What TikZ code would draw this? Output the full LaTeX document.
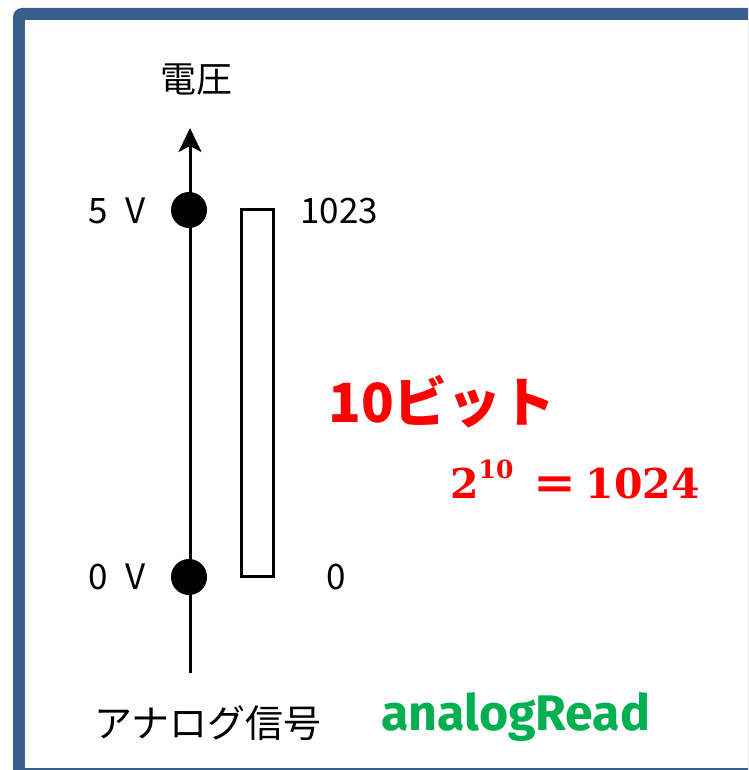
\documentclass[tikz,border=0pt]{standalone}
\usepackage{fontspec}
\usepackage{graphicx}
\usetikzlibrary{arrows.meta}
\newfontfamily\jp{Noto Sans CJK JP}
\newfontfamily\fira{Fira Sans}
\newfontfamily\dvserif{DejaVu Serif}
\definecolor{frameblue}{HTML}{3A5F8C}
\definecolor{myred}{HTML}{FF0000}
\definecolor{mygreen}{HTML}{00B050}
\newcommand\myeqtext{\bfseries 2\raisebox{20pt}{\fontsize{25}{27}\selectfont 10}\hspace{20pt}\scalebox{1.25}[1.1]{=}\hspace{9pt}1024}
\tikzset{
  lbl/.style={font=\jp\fontsize{35}{38}\selectfont, text=black, inner sep=0pt},
  dot/.style={circle, fill=black, minimum size=36pt, inner sep=0pt},
  axis/.style={line width=3pt, -{Stealth[length=24pt,width=23pt,inset=6pt]}},
  redeq/.style={text=myred, anchor=base west, inner sep=0pt, font=\dvserif\fontsize{41}{44}\selectfont},
}
\begin{document}
\begin{tikzpicture}[x=1pt,y=1pt]
\useasboundingbox (0,0) rectangle (748,-770);
\begin{scope}
\clip (0,0) rectangle (748,-770);
\fill[frameblue, rounded corners=9pt] (13,-8) rectangle (800,-800);
\fill[white] (25,-20) rectangle (800,-768);
\end{scope}
% axis
\coordinate (bot) at (190,-673);
\coordinate (top) at (190,-128);
\draw[axis] (bot) -- (top);
\node[dot] (v5) at (189,-210) {};
\node[dot] (v0) at (189,-577) {};
\node[lbl, anchor=east] (l5) at (146,-211) {5\hspace{18pt}V};
\node[lbl, anchor=east] (l0) at (146,-577) {0\hspace{18pt}V};
\node[font=\jp\fontsize{36}{38}\selectfont, inner sep=0pt] (vt) at (196,-80) {電圧};
% bar
\node[draw=black, line width=2.5pt, minimum width=32pt, minimum height=367pt, inner sep=0pt] (bar) at (257.5,-393) {};
\node[lbl, anchor=west] (l1023) at (300,-211) {1023};
\node[lbl, anchor=west] (lz) at (326,-577) {0};
% red texts
\node[font=\jp\bfseries\fontsize{54}{58}\selectfont, text=myred, anchor=base west, inner sep=0pt] (bits) at (328,-422) {10ビット};
\node[redeq] (eqn) at (450,-498) {\myeqtext};
% bottom
\node[font=\jp\fontsize{38}{40}\selectfont, anchor=west, inner sep=0pt] (sig) at (94,-723) {アナログ信号};
\node[font=\fira\bfseries\fontsize{50}{54}\selectfont, text=mygreen, anchor=base west, inner sep=0pt] (ar) at (381,-730) {analogRead};
\end{tikzpicture}
\end{document}
